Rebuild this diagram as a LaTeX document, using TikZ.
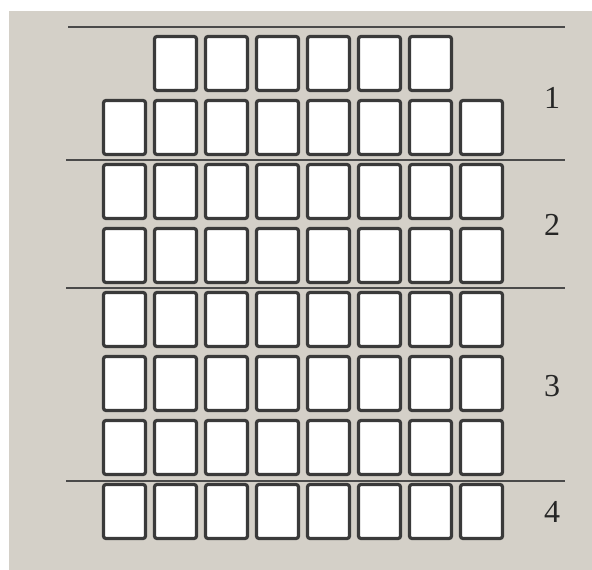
\documentclass[tikz,border=0pt]{standalone}
\usepackage{fontspec}
\setmainfont{Liberation Serif}
\definecolor{bgc}{HTML}{D4D0C8}
\definecolor{edgec}{HTML}{3A3A3A}
\definecolor{linec}{HTML}{4A4A4A}
\tikzset{
  seat/.style={draw=edgec, line width=3.2pt, fill=white, rounded corners=2.5pt,
    minimum width=42pt, minimum height=54pt, inner sep=0pt, outer sep=0pt},
  sep/.style={draw=linec, line width=1.8pt},
  lab/.style={font=\fontsize{32}{34}\selectfont, text=black!85}
}
\begin{document}
\begin{tikzpicture}[x=1pt,y=-1pt]
\useasboundingbox (0,0) rectangle (592,570);
\fill[white] (0,0) rectangle (592,570);
\fill[bgc] (9,11) rectangle (592,570);
% row 1: columns 2..7
\foreach \c in {2,...,7}{
  \node[seat] (b-1-\c) at ({124.5+51*(\c-1)},63.5) {};
}
% rows 2..8: columns 1..8
\foreach \r in {2,...,8}{
  \foreach \c in {1,...,8}{
    \node[seat] (b-\r-\c) at ({124.5+51*(\c-1)},{63.5+64*(\r-1)}) {};
  }
}
% separator lines
\draw[sep] (68,27) -- (565,27);
\draw[sep] (66,160) -- (565,160);
\draw[sep] (66,288) -- (565,288);
\draw[sep] (66,481) -- (565,481);
% labels
\node[lab] (l1) at (552,98) {1};
\node[lab] (l2) at (552,225) {2};
\node[lab] (l3) at (552,386) {3};
\node[lab] (l4) at (552,512) {4};
\end{tikzpicture}
\end{document}
